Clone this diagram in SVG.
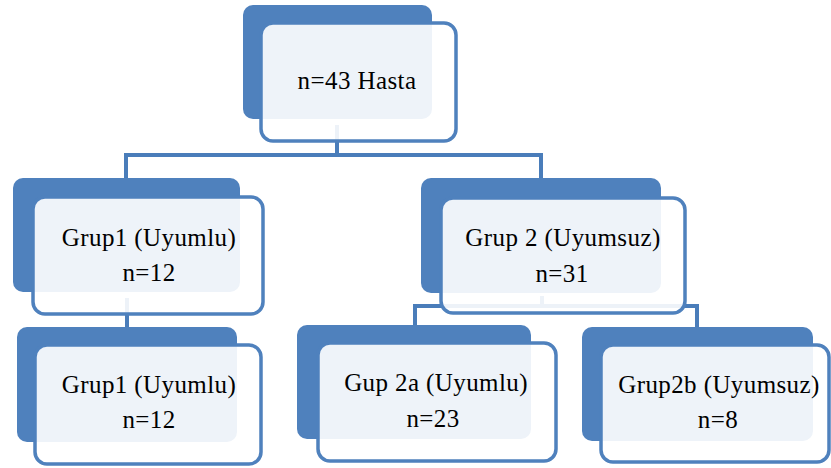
<svg xmlns="http://www.w3.org/2000/svg" width="831" height="468" viewBox="0 0 831 468">
<style>
.back{fill:#4F81BD}
.front{fill:#ffffff;fill-opacity:0.9;stroke:#4F81BD;stroke-width:3.5}
.conn{fill:none;stroke:#4A7DBA;stroke-width:4}
text{font-family:"Liberation Serif","Times New Roman",serif;font-size:25px;fill:#000;text-anchor:middle;letter-spacing:0.4px}
</style>
<rect width="831" height="468" fill="#ffffff"/>
<g id="connectors">
<path class="conn" d="M337,125 V155 M125,155 H541 M126,153 V182 M541,153 V182"/>
<path class="conn" d="M127,298 V330"/>
<path class="conn" d="M542,296 V306 M415,306 H697 M415,304 V328 M697,304 V328"/>
</g>
<g id="n43">
<rect class="back" x="243" y="5" width="189" height="114" rx="10"/>
<rect class="front" x="261" y="23" width="195" height="118" rx="12"/>
<text x="357" y="89">n=43 Hasta</text>
</g>
<g id="grup1">
<rect class="back" x="13" y="178" width="227" height="114" rx="10"/>
<rect class="front" x="33" y="197" width="230" height="117" rx="12"/>
<text x="149" y="246">Grup1 (Uyumlu)</text>
<text x="149" y="281">n=12</text>
</g>
<g id="grup2">
<rect class="back" x="421" y="178" width="240" height="115" rx="10"/>
<rect class="front" x="441" y="198" width="244" height="115" rx="12"/>
<text x="563" y="246">Grup 2 (Uyumsuz)</text>
<text x="562" y="282">n=31</text>
</g>
<g id="grup1b">
<rect class="back" x="17" y="327" width="220" height="115" rx="10"/>
<rect class="front" x="35" y="345" width="226" height="119" rx="12"/>
<text x="149" y="393">Grup1 (Uyumlu)</text>
<text x="149" y="428">n=12</text>
</g>
<g id="grup2a">
<rect class="back" x="297" y="325" width="234" height="114" rx="10"/>
<rect class="front" x="318" y="343" width="238" height="118" rx="12"/>
<text x="436" y="391">Gup 2a (Uyumlu)</text>
<text x="433" y="427">n=23</text>
</g>
<g id="grup2b">
<rect class="back" x="582" y="327" width="231" height="114" rx="10"/>
<rect class="front" x="601" y="345" width="228" height="117" rx="12"/>
<text x="719" y="393">Grup2b (Uyumsuz)</text>
<text x="718" y="428">n=8</text>
</g>
</svg>
